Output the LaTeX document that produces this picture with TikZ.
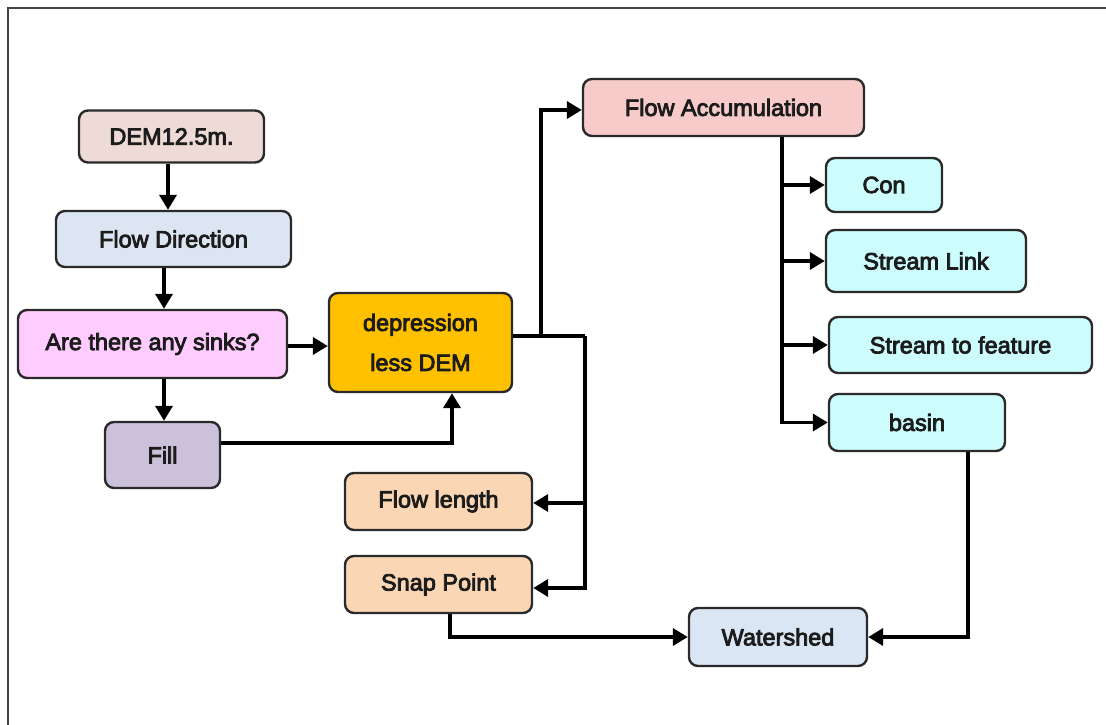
\documentclass[tikz,border=0pt]{standalone}
\usepackage{fontspec}
\newfontfamily\lab[FakeBold=3.5]{Liberation Sans}
\usetikzlibrary{arrows.meta,positioning}
\definecolor{cdem}{HTML}{EEDAD6}
\definecolor{cfdir}{HTML}{DCE6F2}
\definecolor{csink}{HTML}{FFCCFF}
\definecolor{cfill}{HTML}{CCC1DB}
\definecolor{cdep}{HTML}{FFC000}
\definecolor{cfacc}{HTML}{F8CBCB}
\definecolor{ccyan}{HTML}{CCFCFC}
\definecolor{cpeach}{HTML}{FBD6B5}
\definecolor{cwsh}{HTML}{DAE6F4}
\definecolor{cborder}{HTML}{2A2A2A}
\definecolor{ctext}{HTML}{1C1C1C}
\definecolor{cframe}{HTML}{444444}
\tikzset{
  box/.style={draw=cborder, line width=2.4pt, rounded corners=9pt, inner sep=0pt,
    align=center, text=ctext, font={\lab\fontsize{23.5}{40}\selectfont}},
  arr/.style={draw=black, line width=3.6pt, -{Triangle[length=15pt,width=17pt]}},
  wire/.style={draw=black, line width=3.6pt}
}
\begin{document}
\begin{tikzpicture}[x=1pt,y=-1pt]
\useasboundingbox (0,0) rectangle (1106,725);
\draw[cframe, line width=2.5pt] (8,725) -- (8,8) -- (1106,8);

\node[box, fill=cdem,   minimum width=185pt, minimum height=52pt] (dem)   at (171.5,136.5) {DEM12.5m.};
\node[box, fill=cfdir,  minimum width=235pt, minimum height=56pt] (fdir)  at (173.5,239) {Flow Direction};
\node[box, fill=csink,  minimum width=269pt, minimum height=68pt] (sinks) at (152.5,344) {Are there any sinks?};
\node[box, fill=cfill,  minimum width=115pt, minimum height=66pt] (fill)  at (162.5,455) {Fill};
\node[box, fill=cdep,   minimum width=183pt, minimum height=99pt] (dep)   at (420.5,342.5) {depression\\less DEM};
\node[box, fill=cfacc,  minimum width=281pt, minimum height=57pt] (facc)  at (723.5,107.5) {Flow Accumulation};
\node[box, fill=ccyan,  minimum width=116pt, minimum height=54pt] (con)   at (884,185) {Con};
\node[box, fill=ccyan,  minimum width=200pt, minimum height=62pt] (slink) at (926,261) {Stream Link};
\node[box, fill=ccyan,  minimum width=263pt, minimum height=56pt] (sfeat) at (960.5,345) {Stream to feature};
\node[box, fill=ccyan,  minimum width=176pt, minimum height=57pt] (basin) at (917,422.5) {basin};
\node[box, fill=cpeach, minimum width=187pt, minimum height=57pt] (flen)  at (438.5,501.5) {Flow length};
\node[box, fill=cpeach, minimum width=187pt, minimum height=57pt] (snap)  at (438.5,584.5) {Snap Point};
\node[box, fill=cwsh,   minimum width=178pt, minimum height=58pt] (wshed) at (778,637) {Watershed};

% guide coordinates
\coordinate (x168) at (168,0);
\coordinate (x164) at (164,0);
\coordinate (y346) at (0,346);
\coordinate (y443) at (0,443);
\coordinate (x452) at (452,0);
\coordinate (ja) at (541,336);
\coordinate (jb) at (585,336);
\coordinate (jtop) at (541,110);
\coordinate (y503) at (0,503);
\coordinate (y588) at (0,588);
\coordinate (x782) at (782,0);
\coordinate (x968) at (968,0);
\coordinate (x450) at (450,0);

\draw[arr] (dem.south -| x168) -- (fdir.north -| x168);
\draw[arr] (fdir.south -| x164) -- (sinks.north -| x164);
\draw[arr] (sinks.south -| x164) -- (fill.north -| x164);
\draw[arr] (sinks.east |- y346) -- (dep.west |- y346);
\draw[arr] (fill.east |- y443) -| (dep.south -| x452);

\draw[wire] (dep.east |- ja) -- (jb);
\draw[arr] (ja) -- (jtop) -- (facc.west |- jtop);
\draw[arr] (jb) |- (snap.east |- y588);
\draw[arr] (jb |- y503) -- (flen.east |- y503);

\draw[arr] (facc.south -| x782) |- (basin.west);
\draw[arr] (x782 |- con.west) -- (con.west);
\draw[arr] (x782 |- slink.west) -- (slink.west);
\draw[arr] (x782 |- sfeat.west) -- (sfeat.west);

\draw[arr] (basin.south -| x968) |- (wshed.east);
\draw[arr] (snap.south -| x450) |- (wshed.west);
\end{tikzpicture}
\end{document}
